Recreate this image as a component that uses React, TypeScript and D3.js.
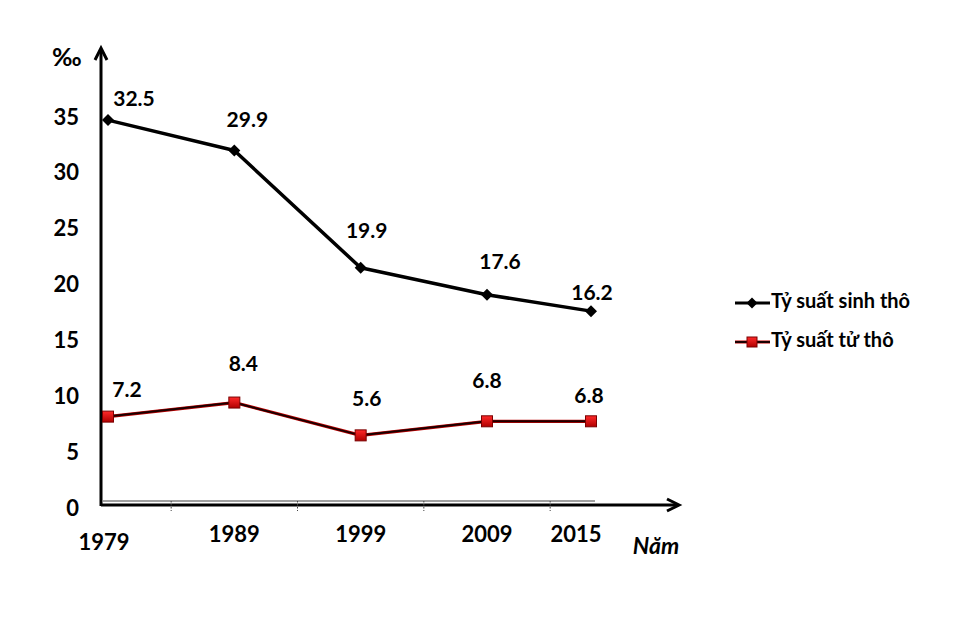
import React from "react";
import * as d3 from "d3";

const years = [1979, 1989, 1999, 2009, 2015];
const birthRate = [32.5, 29.9, 19.9, 17.6, 16.2];
const deathRate = [7.2, 8.4, 5.6, 6.8, 6.8];
const yTicks = [0, 5, 10, 15, 20, 25, 30, 35];
const seriesNames = ["Tỷ suất sinh thô", "Tỷ suất tử thô"];
const yUnit = "‰";
const xUnit = "Năm";

// layout (label nudges, px)
const birthLabelOffsets: [number, number][] = [[26, -19], [13, -29], [6, -35], [13, -31], [1, -17]];
const deathLabelOffsets: [number, number][] = [[19, -25], [9, -37], [6, -35], [0, -39], [-2, -24]];
const yearLabelNudges: [number, number][] = [[-4, 8], [0, 0], [0, 0], [0, 0], [-15, 0]];

const W = 953;
const H = 633;
const FONT = "Lato, 'Open Sans', sans-serif";

export default function App() {
  const x = d3.scaleLinear().domain([1979, 2009, 2015]).range([108, 487, 591]);
  const y = d3.scaleLinear().domain([0, 35]).range([501, 501 - 35 * 11.72]);
  const yLab = d3.scaleLinear().domain([0, 35]).range([510, 119]);
  const step = x(years[1]) - x(years[0]);

  const line = d3
    .line<number>()
    .x((_, i) => x(years[i]))
    .y((v) => y(v));

  const diamond = (cx: number, cy: number, r: number) =>
    `M${cx},${cy - r}L${cx + r},${cy}L${cx},${cy + r}L${cx - r},${cy}Z`;

  const axisY0 = 505;
  const yAxisX = 101;

  return (
    <svg
      width={W}
      height={H}
      style={{ position: "absolute", left: 0, top: 0, background: "#fff" }}
      fontFamily={FONT}
      fontWeight="bold"
    >
      <defs>
        <linearGradient id="redsq" x1="0" y1="0" x2="0" y2="1">
          <stop offset="0" stopColor="#ff2a2a" />
          <stop offset="1" stopColor="#b00000" />
        </linearGradient>
      </defs>
      <rect width={W} height={H} fill="#fff" />

      {/* gray baseline */}
      <line x1={yAxisX + 2} x2={595} y1={501} y2={501} stroke="#a0a0a0" strokeWidth={2} />
      {/* x axis */}
      <line x1={yAxisX} x2={678} y1={axisY0} y2={axisY0} stroke="#000" strokeWidth={3} />
      <path d={`M667,${axisY0 - 6}L679,${axisY0}L667,${axisY0 + 6}`} fill="none" stroke="#000" strokeWidth={3} />
      {/* y axis */}
      <line x1={yAxisX} x2={yAxisX} y1={50} y2={axisY0 + 1} stroke="#000" strokeWidth={3} />
      <path d={`M${yAxisX - 6},60L${yAxisX},48L${yAxisX + 6},60`} fill="none" stroke="#000" strokeWidth={3} />

      {/* minor dotted ticks */}
      {years.slice(0, 4).map((yr) => (
        <line
          key={"t" + yr}
          x1={x(yr) + step / 2}
          x2={x(yr) + step / 2}
          y1={501}
          y2={511}
          stroke="#444"
          strokeWidth={1}
          strokeDasharray="1.5,1.5"
        />
      ))}

      {/* y tick labels */}
      {yTicks.map((t) => (
        <text key={"y" + t} x={79} y={yLab(t)} textAnchor="end" dominantBaseline="middle" fontSize={22} fill="#000">
          {t}
        </text>
      ))}
      <text x={52} y={60} dominantBaseline="middle" fontSize={25} fill="#000">
        {yUnit}
      </text>

      {/* x labels */}
      {years.map((yr, i) => (
        <text
          key={"x" + yr}
          x={x(yr) + yearLabelNudges[i][0]}
          y={536 + yearLabelNudges[i][1]}
          textAnchor="middle"
          dominantBaseline="middle"
          fontSize={22}
          fill="#000"
        >
          {yr}
        </text>
      ))}
      <text x={656} y={548} textAnchor="middle" dominantBaseline="middle" fontSize={23} fontStyle="italic" fill="#000">
        {xUnit}
      </text>

      {/* birth series */}
      <path d={line(birthRate) || ""} fill="none" stroke="#000" strokeWidth={3.5} strokeLinejoin="round" />
      {birthRate.map((v, i) => (
        <path key={"bd" + i} d={diamond(x(years[i]), y(v), 6)} fill="#000" />
      ))}
      {birthRate.map((v, i) => (
        <text
          key={"bl" + i}
          x={x(years[i]) + birthLabelOffsets[i][0]}
          y={y(v) + birthLabelOffsets[i][1]}
          textAnchor="middle"
          dominantBaseline="middle"
          fontSize={21}
          fill="#000"
        >
          {v.toFixed(1)}
        </text>
      ))}

      {/* death series */}
      <path d={line(deathRate) || ""} fill="none" stroke="#c00000" strokeWidth={3.2} strokeLinejoin="round" />
      <path d={line(deathRate) || ""} fill="none" stroke="#1a0000" strokeWidth={2} strokeLinejoin="round" />
      {deathRate.map((v, i) => (
        <rect
          key={"ds" + i}
          x={x(years[i]) - 5.5}
          y={y(v) - 5.5}
          width={11}
          height={11}
          fill="url(#redsq)"
          stroke="#7a0000"
          strokeWidth={1}
        />
      ))}
      {deathRate.map((v, i) => (
        <text
          key={"dl" + i}
          x={x(years[i]) + deathLabelOffsets[i][0]}
          y={y(v) + deathLabelOffsets[i][1]}
          textAnchor="middle"
          dominantBaseline="middle"
          fontSize={21}
          fill="#000"
        >
          {v.toFixed(1)}
        </text>
      ))}

      {/* legend */}
      <g>
        <line x1={735} x2={770} y1={303} y2={303} stroke="#000" strokeWidth={3} />
        <path d={diamond(752, 303, 5.5)} fill="#000" />
        <text x={771} y={303} dominantBaseline="middle" fontSize={20} fill="#000">
          {seriesNames[0]}
        </text>
        <line x1={735} x2={770} y1={342} y2={342} stroke="#c00000" strokeWidth={3.2} />
        <line x1={735} x2={770} y1={342} y2={342} stroke="#1a0000" strokeWidth={2} />
        <rect x={747} y={337} width={10} height={10} fill="url(#redsq)" stroke="#7a0000" strokeWidth={1} />
        <text x={771} y={342} dominantBaseline="middle" fontSize={20} fill="#000">
          {seriesNames[1]}
        </text>
      </g>
    </svg>
  );
}
